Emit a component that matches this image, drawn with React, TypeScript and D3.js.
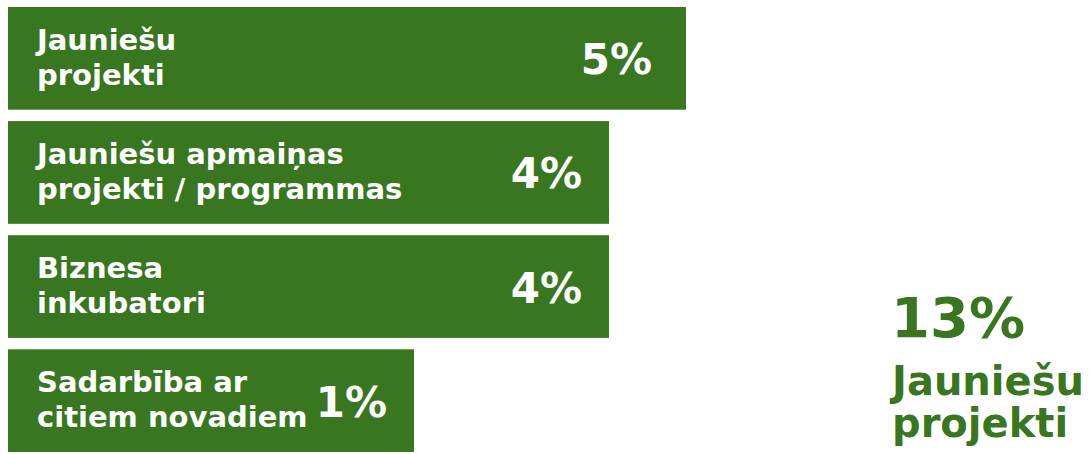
import React from "react";
import * as d3 from "d3";

const categories: string[][] = [
  ["Jauniešu", "projekti"],
  ["Jauniešu apmaiņas", "projekti / programmas"],
  ["Biznesa", "inkubatori"],
  ["Sadarbība ar", "citiem novadiem"],
];
const values: number[] = [5, 4, 4, 1];
const valueLabels: string[] = ["5%", "4%", "4%", "1%"];
const totalLabel = "13%";
const totalCaption: string[] = ["Jauniešu", "projekti"];

const W = 1089;
const H = 454;
const GREEN = "#38761f";
const FONT = "'DejaVu Sans', sans-serif";

export default function App() {
  const x = d3.scaleLinear().domain([1, 4, 5]).range([406, 601, 678]);
  const y = d3
    .scaleBand<number>()
    .domain(d3.range(values.length))
    .range([7, 452])
    .paddingInner(0.1)
    .paddingOuter(0);
  const x0 = 8;
  return (
    <svg
      width={W}
      height={H}
      style={{ position: "absolute", left: 0, top: 0 }}
      fontFamily={FONT}
    >
      {values.map((v, i) => {
        const by = y(i)!;
        const bh = y.bandwidth();
        const cy = by + bh / 2;
        return (
          <g key={i}>
            <rect x={x0} y={by} width={x(v)} height={bh} fill={GREEN} />
            <text
              x={x0 + 29}
              y={cy - 8.5}
              fill="#fff"
              fontSize={29}
              fontWeight={700}
            >
              {categories[i][0]}
            </text>
            <text
              x={x0 + 29}
              y={cy + 26.5}
              fill="#fff"
              fontSize={29}
              fontWeight={700}
            >
              {categories[i][1]}
            </text>
            <text
              x={x0 + x(v) - (i === 0 ? 34 : 27)}
              y={cy + 16}
              fill="#fff"
              fontSize={42}
              fontWeight={700}
              textAnchor="end"
            >
              {valueLabels[i]}
            </text>
          </g>
        );
      })}
      <text x={891} y={337} fill={GREEN} fontSize={56} fontWeight={700}>
        {totalLabel}
      </text>
      <text x={892} y={395} fill={GREEN} fontSize={40} fontWeight={700}>
        {totalCaption[0]}
      </text>
      <text x={892} y={437} fill={GREEN} fontSize={40} fontWeight={700}>
        {totalCaption[1]}
      </text>
    </svg>
  );
}
